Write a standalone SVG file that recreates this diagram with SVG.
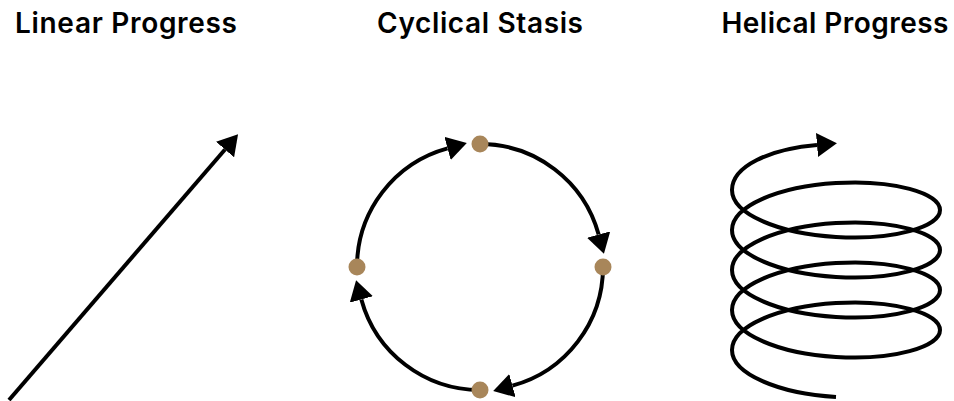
<svg xmlns="http://www.w3.org/2000/svg" width="954" height="401" viewBox="0 0 954 401">
<style>
.title{font-family:Inter,"Liberation Sans",sans-serif;font-weight:600;font-size:28px;fill:#000;text-anchor:middle}
.line{fill:none;stroke:#000;stroke-width:4}
.dot{fill:#A8865A}
</style>
<defs>
<marker id="ah" markerUnits="userSpaceOnUse" markerWidth="20" markerHeight="24" viewBox="0 0 20 24" refX="0" refY="12" orient="auto">
<path d="M0,0 L20,12 L0,24 z" fill="#000"/>
</marker>
</defs>
<rect width="954" height="401" fill="#fff"/>
<g id="titles">
<text class="title" x="126" y="33" textLength="222" lengthAdjust="spacing">Linear Progress</text>
<text class="title" x="480" y="33" textLength="206" lengthAdjust="spacing">Cyclical Stasis</text>
<text class="title" x="835" y="33" textLength="227" lengthAdjust="spacing">Helical Progress</text>
</g>
<g id="connectors">
<path id="linear" class="line" d="M9,400 L225,149.5" marker-end="url(#ah)"/>
<path class="line" d="M480,144 A123,123 0 0 1 598.65,234.54" marker-end="url(#ah)"/>
<path class="line" d="M603,267 A123,123 0 0 1 512.46,385.65" marker-end="url(#ah)"/>
<path class="line" d="M480,390 A123,123 0 0 1 361.35,299.46" marker-end="url(#ah)"/>
<path class="line" d="M357,267 A123,123 0 0 1 447.54,148.35" marker-end="url(#ah)"/>
<path id="helix" class="line" marker-end="url(#ah)" d="M836,397
c -57.44,-3.52 -104,-23.05 -104,-47 c 0,-23.95 46.56,-43.48 104,-47 c 57.44,-3.52 104,10.08 104,27 c 0,16.92 -46.56,30.52 -104,27
c -57.44,-3.52 -104,-23.05 -104,-47 c 0,-23.95 46.56,-43.48 104,-47 c 57.44,-3.52 104,10.08 104,27 c 0,16.92 -46.56,30.52 -104,27
c -57.44,-3.52 -104,-23.05 -104,-47 c 0,-23.95 46.56,-43.48 104,-47 c 57.44,-3.52 104,10.08 104,27 c 0,16.92 -46.56,30.52 -104,27
c -57.44,-3.52 -104,-23.05 -104,-47 c 0,-23.95 46.56,-43.48 104,-47 c 57.44,-3.52 104,10.08 104,27 c 0,16.92 -46.56,30.52 -104,27
c -57.44,-3.52 -104,-23.05 -104,-47 C 732,166.05 770,149 817,145"/>
</g>
<g id="node-top"><circle class="dot" cx="480" cy="144" r="8.5"/></g>
<g id="node-right"><circle class="dot" cx="603" cy="267" r="8.5"/></g>
<g id="node-bottom"><circle class="dot" cx="480" cy="390" r="8.5"/></g>
<g id="node-left"><circle class="dot" cx="357" cy="267" r="8.5"/></g>
</svg>
